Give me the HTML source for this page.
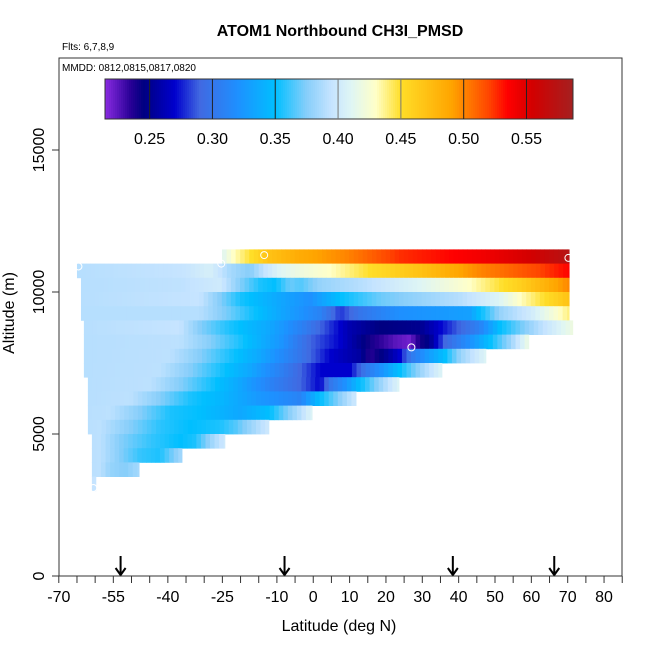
<!DOCTYPE html>
<html><head><meta charset="utf-8">
<style>
html,body{margin:0;padding:0;background:#fff;}
svg{display:block;font-family:"Liberation Sans",Arial,sans-serif;}
</style></head>
<body>
<svg id="chart" width="650" height="650" viewBox="0 0 650 650">
<text x="340" y="36" text-anchor="middle" font-size="16" font-weight="bold">ATOM1 Northbound CH3I_PMSD</text>
<text x="62" y="50" font-size="10">Flts: 6,7,8,9</text>
<g id="heat"></g>
<g id="markers"></g>
<rect x="59" y="58" width="563" height="518" fill="none" stroke="#333" stroke-width="1"/>
<text x="62" y="71" font-size="10">MMDD: 0812,0815,0817,0820</text>
<g id="cbar"></g>
<g id="axes"></g>
<text x="339" y="631" text-anchor="middle" font-size="16">Latitude (deg N)</text>
<text transform="translate(14,313) rotate(-90)" text-anchor="middle" font-size="16">Altitude (m)</text>
</svg>
<script>
// ---- data ----
const rowAlt = [11250,10750,10250,9750,9250,8750,8250,7750,7250,6750,6250,5750,5250,4750,4250,3750,3250];
const rowStart = [-25.1,-65,-63.9,-63.9,-63.9,-63.1,-63.1,-63.1,-63.1,-62,-62,-62,-62,-60.9,-60.9,-60.9,-60.9];
const rowEnd = [70.4,70.4,70.4,70.4,70.4,71.4,59.3,47.5,35.4,23.6,11.8,-0.3,-12.2,-24.3,-36.1,-47.9,-59.8];
const knotLat = [
 [-25.1,-22,-17,-12,-4,9,24,45.9,60,70.4],
 [-65,-36,-28.4,-22.9,-17.4,-13.3,-9.2,-3.6,4.6,15.6,29.4,45.9,62.3,70.4],
 [-65,-36,-25.7,-20.2,-14.6,-10.5,-6.4,-3.6,1.9,12.9,29.4,43.1,56.8,70.4],
 [-65,-31.2,-25.7,-20.2,-9.2,-0.9,7.4,18.4,29.4,40.4,51.4,56.8,70.4],
 [-65,-31.2,-22.9,-17.4,-9.2,1.9,7.4,12.9,23.8,43.1,45.9,51.4,59.6,70.4],
 [-65,-36.7,-31.2,-22.9,-11.9,-3.6,4.6,10.1,18.4,29.4,37.6,45.9,51.4,56.8,62.3,71.4],
 [-65,-36.7,-28.4,-20.2,-9.2,-0.9,7.4,15.6,22.5,26.6,29.4,32.1,36.2,43.1,48.6,54.1,59.3],
 [-65,-39.4,-31.2,-22.9,-14.6,-3.6,4.6,12.9,15.6,19.7,23.8,26.6,32.1,36.2,40.4,47.5],
 [-65,-42.2,-33.9,-25.7,-17.4,-6.4,1.9,10.1,14.2,18.4,23.8,29.4,35.4],
 [-65,-44.9,-36.7,-28.4,-20.2,-11.9,-3.6,1.9,4.6,8.7,12.9,18.4,23.6],
 [-65,-50.4,-42.2,-33.9,-25.7,-14.6,-3.6,-0.9,1.9,6,11.8],
 [-65,-55.9,-47.7,-39.4,-31.2,-20.2,-11.9,-7.8,-3.6,-0.3],
 [-65,-58.7,-50.4,-42.2,-33.9,-25.7,-21.5,-17.4,-12.2],
 [-65,-58.7,-53.2,-44.9,-36.7,-32.5,-28.4,-24.3],
 [-65,-58.7,-53.2,-47.7,-42.2,-36.1],
 [-65,-58.7,-55.9,-51.8,-47.9],
 [-65,-59.8]
];
const knotVal = [
 [0.41,0.43,0.45,0.47,0.485,0.50,0.525,0.54,0.555,0.575],
 [0.39,0.395,0.405,0.385,0.375,0.395,0.41,0.42,0.43,0.45,0.47,0.50,0.52,0.535],
 [0.39,0.393,0.40,0.375,0.355,0.35,0.37,0.365,0.38,0.39,0.41,0.43,0.46,0.50],
 [0.39,0.395,0.375,0.355,0.335,0.32,0.35,0.37,0.38,0.39,0.41,0.43,0.47],
 [0.39,0.39,0.37,0.355,0.335,0.31,0.28,0.30,0.32,0.33,0.35,0.38,0.40,0.44],
 [0.39,0.395,0.375,0.355,0.335,0.31,0.28,0.26,0.245,0.25,0.28,0.31,0.35,0.37,0.39,0.42],
 [0.39,0.392,0.375,0.355,0.325,0.29,0.27,0.24,0.225,0.22,0.24,0.25,0.29,0.32,0.35,0.38,0.42],
 [0.39,0.392,0.375,0.355,0.335,0.30,0.27,0.255,0.235,0.25,0.27,0.30,0.33,0.35,0.38,0.41],
 [0.39,0.392,0.375,0.355,0.335,0.30,0.27,0.27,0.30,0.32,0.35,0.38,0.41],
 [0.39,0.392,0.375,0.355,0.335,0.31,0.29,0.27,0.30,0.32,0.35,0.38,0.41],
 [0.39,0.392,0.375,0.355,0.345,0.325,0.31,0.33,0.35,0.37,0.40],
 [0.39,0.392,0.375,0.355,0.35,0.335,0.35,0.37,0.39,0.41],
 [0.39,0.392,0.375,0.358,0.35,0.355,0.365,0.38,0.40],
 [0.39,0.392,0.375,0.36,0.35,0.355,0.38,0.40],
 [0.39,0.392,0.375,0.36,0.355,0.385],
 [0.39,0.392,0.38,0.375,0.385],
 [0.395,0.395]
];
const circleLat = [-13.5,70.2,27,-64.6,-25.3,-60.5];
const circleAlt = [11300,11200,8050,10900,11000,3100];
const arrowLat = [-53,-7.9,38.4,66.3];
const xTickLabels = [-70,-55,-40,-25,-10,0,10,20,30,40,50,60,70,80];
const yTickLabels = [0,5000,10000,15000];
const cbarTicks = [0.25,0.30,0.35,0.40,0.45,0.50,0.55];
const cbarMin = 0.2145, cbarMax = 0.587;

// ---- scales ----
const xs = lat => 58.8 + (lat + 70) * 3.635;
const ys = alt => 576 - alt * 0.0284;
const cbx = v => 105 + (v - cbarMin) / (cbarMax - cbarMin) * 468;

const cstops = [
 [0.2145,[138,43,226]],[0.235,[40,0,150]],[0.245,[0,0,128]],[0.27,[0,0,205]],
 [0.29,[65,105,225]],[0.32,[30,144,255]],[0.35,[0,191,255]],[0.375,[135,206,250]],
 [0.395,[198,228,255]],[0.41,[222,245,245]],[0.43,[255,255,200]],[0.45,[255,222,40]],
 [0.49,[255,165,0]],[0.52,[255,69,0]],[0.535,[255,0,0]],[0.555,[210,0,0]],[0.587,[165,32,32]]
];
function color(v){
  if(v<=cstops[0][0]) return 'rgb('+cstops[0][1]+')';
  for(let i=1;i<cstops.length;i++){
    if(v<=cstops[i][0]){
      const a=cstops[i-1],b=cstops[i],t=(v-a[0])/(b[0]-a[0]);
      const c=a[1].map((x,k)=>Math.round(x+(b[1][k]-x)*t));
      return 'rgb('+c.join(',')+')';
    }
  }
  return 'rgb('+cstops[cstops.length-1][1]+')';
}
function valAt(r,lat){
  const L=knotLat[r],V=knotVal[r];
  if(lat<=L[0]) return V[0];
  for(let i=1;i<L.length;i++){
    if(lat<=L[i]){const t=(lat-L[i-1])/(L[i]-L[i-1]);return V[i-1]+(V[i]-V[i-1])*t;}
  }
  return V[V.length-1];
}
const NS='http://www.w3.org/2000/svg';
function mk(tag,attrs,parent){const e=document.createElementNS(NS,tag);for(const k in attrs)e.setAttribute(k,attrs[k]);parent.appendChild(e);return e;}

// ---- heatmap ----
const heat=document.getElementById('heat');
const step=1.25;
for(let r=0;r<rowAlt.length;r++){
  const y0=ys(rowAlt[r]+250), y1=ys(rowAlt[r]-250);
  for(let lat=rowStart[r]; lat<rowEnd[r]-0.01; lat+=step){
    const l2=Math.min(lat+step,rowEnd[r]);
    const c=mk('rect',{x:xs(lat).toFixed(2),y:y0.toFixed(2),width:(xs(l2)-xs(lat)+0.4).toFixed(2),height:(y1-y0+0.4).toFixed(2),fill:color(valAt(r,(lat+l2)/2))},heat);
    
    
  }
}
// ---- markers ----
const mg=document.getElementById('markers');
for(let i=0;i<circleLat.length;i++){
  const c=mk('circle',{cx:xs(circleLat[i]),cy:ys(circleAlt[i]),r:3.5,fill:'none',stroke:'#fff','stroke-width':1},mg);
  
  
}
for(let i=0;i<arrowLat.length;i++){
  const x=xs(arrowLat[i]);
  const a=mk('path',{d:`M${x},556 L${x},575 M${x-5},568 L${x},575 L${x+5},568`,fill:'none',stroke:'#000','stroke-width':2},mg);
  
  
}
// ---- colorbar ----
const cb=document.getElementById('cbar');
for(let px=105;px<573;px+=2){
  const v=cbarMin+(px+1-105)/468*(cbarMax-cbarMin);
  mk('rect',{x:px,y:79,width:2.3,height:40,fill:color(v)},cb);
}
mk('rect',{x:105,y:79,width:468,height:40,fill:'none',stroke:'#333','stroke-width':1},cb);
for(const t of cbarTicks){
  const x=cbx(t);
  const l=mk('line',{x1:x,y1:79,x2:x,y2:119,stroke:(t===0.40||t===0.45)?'#777':'#222','stroke-width':1},cb);
  
  
  const tx=mk('text',{x:x,y:144,'text-anchor':'middle','font-size':16},cb);
  tx.textContent=t.toFixed(2);
  
  
}
// ---- axes ----
const ax=document.getElementById('axes');
for(let lat=-70;lat<=85;lat+=5){
  const x=xs(lat);
  mk('line',{x1:x,y1:576,x2:x,y2:583,stroke:'#333','stroke-width':1},ax);
}
for(const t of xTickLabels){
  const tx=mk('text',{x:xs(t),y:602,'text-anchor':'middle','font-size':16},ax);
  tx.textContent=String(t);
  
  
}
for(const t of yTickLabels){
  const y=ys(t);
  mk('line',{x1:52,y1:y,x2:59,y2:y,stroke:'#333','stroke-width':1},ax);
  const tx=mk('text',{'text-anchor':'middle','font-size':16,transform:`translate(44,${y}) rotate(-90)`},ax);
  tx.textContent=String(t);
  
  
}
</script>
</body></html>
